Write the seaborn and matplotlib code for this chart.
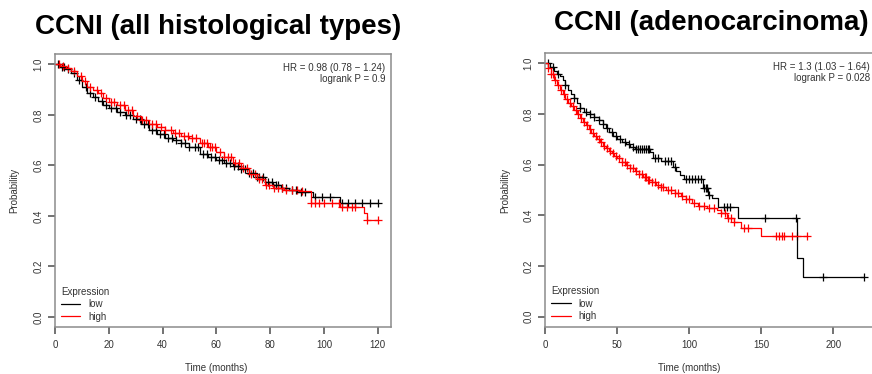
import numpy as np
import pandas as pd
import matplotlib
matplotlib.use("Agg")
import matplotlib.pyplot as plt
import seaborn as sns

# ---- Kaplan-Meier step data: event times (months) and survival after each step ----
# Panel A: all histological types
all_low_t = [0, 2, 4, 6, 8, 10, 12, 14, 16, 18, 20, 23, 26, 29, 32, 35, 38, 41, 44, 47,
             50, 54, 57, 60, 63, 66, 69, 72, 75, 78, 81, 84, 87, 90, 96, 106]
all_low_s = [1.0, 0.99, 0.98, 0.965, 0.94, 0.912, 0.888, 0.872, 0.855, 0.84, 0.828, 0.812,
             0.80, 0.785, 0.763, 0.742, 0.725, 0.71, 0.70, 0.688, 0.672, 0.645, 0.632, 0.62,
             0.61, 0.597, 0.585, 0.568, 0.553, 0.535, 0.522, 0.51, 0.503, 0.496, 0.474, 0.45]
all_low_cens = [1, 2.5, 3.5, 5, 7, 9, 11.5, 13, 15, 17.5, 19, 21, 22.5, 24, 26.5, 28, 30, 31.5,
                33, 34.5, 36, 37.5, 39, 40.5, 42, 43.5, 45, 47, 48.5, 50, 52, 53, 55, 56.5, 58,
                59.5, 61, 62, 63.5, 65, 66.5, 68, 69, 70.5, 72, 73.5, 75, 76, 77.5, 79, 80.5,
                82, 83, 84.5, 86, 88, 89.5, 91.5, 93, 96.7, 99.2, 102.3, 106.6, 109, 111.6,
                114, 117.1, 120]

all_high_t = [0, 2, 4, 6, 8, 10, 12, 14, 16, 18, 20, 23, 26, 29, 32, 35, 38, 41, 44, 47, 50,
              54, 57, 60, 63, 66, 69, 72, 75, 78, 81, 85, 91, 95, 106, 114.7, 116]
all_high_s = [1.0, 0.995, 0.985, 0.975, 0.955, 0.934, 0.912, 0.9, 0.888, 0.868, 0.852, 0.838,
              0.818, 0.795, 0.778, 0.762, 0.752, 0.742, 0.728, 0.715, 0.708, 0.69, 0.672, 0.655,
              0.635, 0.61, 0.59, 0.565, 0.545, 0.522, 0.51, 0.503, 0.497, 0.45, 0.435, 0.41, 0.384]
all_high_cens = [1.5, 3, 5, 7, 9.5, 11, 13, 15.5, 17, 19, 21, 22, 24, 25.5, 27, 28.5, 30.5, 32.5,
                 34, 36, 37.5, 39.5, 41, 43, 44.5, 46, 48, 49.5, 51, 52.5, 54.5, 55.5, 56.5,
                 57.5, 58.5, 59.5, 61.5, 63, 64.5, 65.5, 67, 68.5, 70, 71.5, 73, 74.5, 76,
                 77, 78.5, 79.5, 81.5, 83, 84.5, 86, 88, 90, 92, 95.2, 96.7, 98, 100, 103,
                 105.5, 106.6, 108.6, 110.4, 111.6, 116, 120]

# Panel B: adenocarcinoma
adc_low_t = [0, 3, 6, 8, 10, 12, 14, 16, 18, 20, 22, 24, 27, 31, 34, 37, 40, 42, 44, 47, 50,
             53, 56, 59, 62, 73, 75, 80, 89, 91, 93.5, 96, 109.7, 113, 116, 120, 133.6,
             174.6, 179.2]
adc_low_s = [1.0, 0.985, 0.97, 0.96, 0.95, 0.935, 0.915, 0.895, 0.88, 0.865, 0.845, 0.825,
             0.81, 0.80, 0.79, 0.775, 0.76, 0.745, 0.73, 0.715, 0.70, 0.69, 0.68, 0.67,
             0.662, 0.65, 0.628, 0.616, 0.59, 0.575, 0.559, 0.542, 0.507, 0.48, 0.467, 0.434,
             0.388, 0.23, 0.155]
adc_low_cens = [2, 5, 9, 14, 20, 24, 28, 31, 34, 37, 40, 43, 46, 49, 52, 55, 58, 61, 63, 64.5,
                66, 67, 68.5, 70, 71, 72, 76, 78, 83, 85, 87, 90, 98, 100, 102, 104, 106, 108,
                110.5, 111.5, 112, 113.5, 124, 126, 128, 152.5, 174, 193, 221]

adc_high_t = [0, 2, 4, 6, 8, 10, 12, 14, 16, 18, 20, 22, 24, 26, 28, 30, 32, 34, 36, 38, 40,
              42, 44, 46, 48, 50, 53, 56, 59, 62, 65, 68, 71, 74, 77, 80, 84, 90, 94, 98,
              102, 106, 112, 119, 122, 126, 131, 136, 149.8]
adc_high_s = [1.0, 0.98, 0.96, 0.935, 0.915, 0.895, 0.878, 0.86, 0.845, 0.83, 0.815, 0.80,
              0.785, 0.77, 0.755, 0.74, 0.725, 0.712, 0.70, 0.688, 0.675, 0.665, 0.655, 0.645,
              0.635, 0.625, 0.61, 0.598, 0.587, 0.575, 0.563, 0.553, 0.54, 0.53, 0.52, 0.51,
              0.50, 0.49, 0.475, 0.465, 0.45, 0.436, 0.43, 0.421, 0.41, 0.39, 0.375, 0.35,
              0.318]
adc_high_cens = [2, 4, 5, 7, 9, 11, 13, 15, 17, 19, 21, 23, 25, 27, 29, 31, 33, 35, 37, 39, 41,
                 43, 45, 47, 49, 51, 53, 55, 57, 59, 61, 63, 65, 67, 69, 70, 71, 72, 74, 76,
                 78, 80, 82, 85, 87, 90, 92, 95, 98, 100, 103, 107, 110, 114, 117, 122, 125,
                 127, 129, 131, 138, 141, 160, 162, 164, 166, 171, 175, 182]

group_labels = ["low", "high"]
group_colors = ["black", "#ff0000"]

panels = [
    dict(title="CCNI (all histological types)",
         curves=[(all_low_t, all_low_s, all_low_cens), (all_high_t, all_high_s, all_high_cens)],
         hr="HR = 0.98 (0.78 \u2212 1.24)", p="logrank P = 0.9",
         xticks=[0, 20, 40, 60, 80, 100, 120], xlim=(0, 124.8)),
    dict(title="CCNI (adenocarcinoma)",
         curves=[(adc_low_t, adc_low_s, adc_low_cens), (adc_high_t, adc_high_s, adc_high_cens)],
         hr="HR = 1.3 (1.03 \u2212 1.64)", p="logrank P = 0.028",
         xticks=[0, 50, 100, 150, 200], xlim=(0, 231)),
]

text_col = "#333333"
frame_col = "#8c8c8c"
tick_col = "#5a5a5a"

sns.set_theme(style="ticks")
plt.rcParams["font.family"] = ["Liberation Sans", "DejaVu Sans"]
plt.rcParams.update({
    "xtick.bottom": True, "ytick.left": True,
    "xtick.direction": "out", "ytick.direction": "out",
    "xtick.major.size": 5, "ytick.major.size": 5,
    "xtick.major.width": 1.2, "ytick.major.width": 1.2,
    "xtick.color": tick_col, "ytick.color": tick_col,
    "xtick.labelcolor": text_col, "ytick.labelcolor": text_col,
    "xtick.labelsize": 7, "ytick.labelsize": 7,
})

W, H = 872, 374
fig = plt.figure(figsize=(W / 100, H / 100), dpi=100)


def axes_px(x0, y0, x1, y1):
    return fig.add_axes([x0 / W, 1 - y1 / H, (x1 - x0) / W, (y1 - y0) / H])


axes_boxes = [(55, 54.3, 390.7, 327), (545.3, 53.3, 878, 326.7)]
title_pos = [(218, 27), (711.5, 23)]
stat_pos = [(385, 68.3, 79), (870, 66.7, 78.3)]
ylabel_x = [14, 505]
xlabel_y = 368

for panel, box, tpos, spos, ylx in zip(panels, axes_boxes, title_pos, stat_pos, ylabel_x):
    ax = axes_px(*box)
    for (t, s, cens), lab, col in zip(panel["curves"], group_labels, group_colors):
        t = np.asarray(t, float)
        s = np.asarray(s, float)
        cens = np.asarray(cens, float)
        end = max(t[-1], cens.max())
        line = pd.DataFrame({"time": np.append(t, end), "surv": np.append(s, s[-1])})
        sns.lineplot(data=line, x="time", y="surv", drawstyle="steps-post", color=col,
                     linewidth=0.9, estimator=None, sort=False, label=lab, ax=ax)
        # censored observations sit on the curve at their follow-up time
        idx = np.searchsorted(t, cens, side="right") - 1
        marks = pd.DataFrame({"time": cens, "surv": s[idx]})
        sns.scatterplot(data=marks, x="time", y="surv", marker="+", s=32, color=col,
                        linewidth=0.9, legend=False, ax=ax)

    ax.set_xlim(*panel["xlim"])
    ax.set_ylim(-0.04, 1.04)
    ax.set_xticks(panel["xticks"])
    ax.set_yticks([0.0, 0.2, 0.4, 0.6, 0.8, 1.0])
    ax.set_yticklabels(["0.0", "0.2", "0.4", "0.6", "0.8", "1.0"])
    ax.set_xlabel("")
    ax.set_ylabel("")
    ax.tick_params(axis="both", which="major", bottom=True, left=True, top=False, right=False,
                   direction="out", length=5, width=1.2, color=tick_col,
                   labelsize=7, labelcolor=text_col)
    ax.tick_params(axis="x", pad=4.5)
    ax.tick_params(axis="y", pad=3.5, labelrotation=90)
    for lbl in ax.get_yticklabels():
        lbl.set_verticalalignment("center")
    for sp in ax.spines.values():
        sp.set_visible(True)
        sp.set_color(frame_col)
        sp.set_linewidth(1.1)
    ax.grid(False)

    leg = ax.legend(title="Expression", loc="lower left", bbox_to_anchor=(0.018, 0.02),
                    frameon=False, fontsize=7, title_fontsize=7, handlelength=2.0,
                    handletextpad=0.8, labelspacing=0.25, borderpad=0, borderaxespad=0,
                    alignment="left")
    for txt in leg.get_texts():
        txt.set_color(text_col)
    leg.get_title().set_color(text_col)

    fig.text(spos[0] / W, 1 - spos[1] / H, panel["hr"], ha="right", va="center",
             fontsize=7, color=text_col)
    fig.text(spos[0] / W, 1 - spos[2] / H, panel["p"], ha="right", va="center",
             fontsize=7, color=text_col)

    fig.text(tpos[0] / W, 1 - tpos[1] / H, panel["title"], ha="center", va="center",
             fontsize=20, fontweight="bold", color="black")
    fig.text(ylx / W, 1 - ((box[1] + box[3]) / 2) / H, "Probability", rotation=90,
             ha="center", va="center", fontsize=7, color=text_col)
    # axis title centred under the tick range
    lo, hi = panel["xlim"]
    x_mid = (panel["xticks"][0] + panel["xticks"][-1]) / 2
    x_mid_px = box[0] + (box[2] - box[0]) * (x_mid - lo) / (hi - lo)
    fig.text(x_mid_px / W, 1 - xlabel_y / H, "Time (months)", ha="center", va="center",
             fontsize=7, color=text_col)

fig.savefig("out.png", dpi=100, facecolor="white")
